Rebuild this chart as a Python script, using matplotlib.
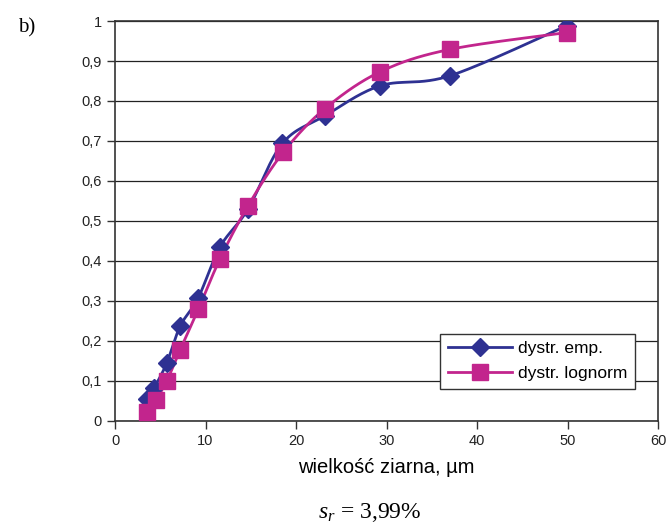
import numpy as np
import matplotlib
matplotlib.use("Agg")
import matplotlib.pyplot as plt
from matplotlib.ticker import FuncFormatter

# grain size [um] and cumulative distributions
x_emp = [3.5, 4.3, 5.7, 7.2, 9.2, 11.6, 14.7, 18.5, 23.2, 29.3, 37.0, 49.9]
y_emp = [0.055, 0.082, 0.144, 0.237, 0.308, 0.435, 0.53, 0.694, 0.763, 0.838, 0.863, 0.988]
x_log = [3.5, 4.5, 5.7, 7.2, 9.2, 11.6, 14.7, 18.6, 23.2, 29.3, 37.0, 49.9]
y_log = [0.023, 0.053, 0.099, 0.178, 0.279, 0.405, 0.538, 0.672, 0.781, 0.873, 0.929, 0.971]

labels = ["dystr. emp.", "dystr. lognorm"]
blue = "#2E3192"
pink = "#C2258D"


def smooth(xs, ys, n=30):
    # catmull-rom like excel "smoothed line"
    p = np.column_stack([xs, ys])
    p = np.vstack([p[0], p, p[-1]])
    out = []
    for i in range(1, len(p) - 2):
        p0, p1, p2, p3 = p[i - 1], p[i], p[i + 1], p[i + 2]
        t = np.linspace(0, 1, n)[:, None]
        pt = 0.5 * ((2 * p1) + (-p0 + p2) * t + (2 * p0 - 5 * p1 + 4 * p2 - p3) * t ** 2
                    + (-p0 + 3 * p1 - 3 * p2 + p3) * t ** 3)
        out.append(pt)
    out = np.vstack(out)
    return out[:, 0], out[:, 1]


plt.rcParams["font.family"] = ["Liberation Sans", "DejaVu Sans"]
plt.rcParams["mathtext.fontset"] = "custom"
plt.rcParams["mathtext.it"] = "Liberation Serif:italic"
plt.rcParams["mathtext.rm"] = "Liberation Serif"

fig = plt.figure(figsize=(6.71, 5.23), dpi=100)
ax = fig.add_axes([115 / 671, 102 / 523, 543 / 671, 400 / 523])

sx, sy = smooth(x_emp, y_emp)
ax.plot(sx, sy, color=blue, lw=2, zorder=3)
ax.plot(x_emp, y_emp, ls="none", marker="D", ms=9, color=blue, zorder=4)
sx, sy = smooth(x_log, y_log)
ax.plot(sx, sy, color=pink, lw=2, zorder=3)
ax.plot(x_log, y_log, ls="none", marker="s", ms=12, color=pink, zorder=5)

ax.set_xlim(0, 60)
ax.set_ylim(0, 1)
ax.set_xticks(np.arange(0, 61, 10))
ax.set_yticks(np.arange(0, 1.01, 0.1))
ax.yaxis.set_major_formatter(FuncFormatter(lambda v, p: "0" if abs(v) < 1e-9 else ("1" if abs(v - 1) < 1e-9 else f"{v:.1f}".replace(".", ","))))
ax.grid(axis="y", color="#222222", lw=0.9)
ax.set_axisbelow(True)
for s in ax.spines.values():
    s.set_color("#333333")
    s.set_linewidth(1.2)
ax.tick_params(axis="both", labelsize=10.5, color="#333333", labelcolor="#222222",
               length=6, width=1, direction="out")
ax.set_xlabel("wielkość ziarna, µm", fontsize=14.5, labelpad=7)

h1 = plt.Line2D([], [], color=blue, lw=2, marker="D", ms=9)
h2 = plt.Line2D([], [], color=pink, lw=2, marker="s", ms=11)
leg = ax.legend([h1, h2], labels, loc="lower right", bbox_to_anchor=(0.958, 0.08),
                borderaxespad=0, fontsize=12.5, frameon=True, fancybox=False,
                edgecolor="#333333", framealpha=1, handlelength=3.7,
                borderpad=0.45, labelspacing=0.55, handletextpad=0.35)
leg.get_frame().set_linewidth(1)

fig.text(18 / 671, 1 - 28 / 523, "b)", family="Liberation Serif", fontsize=15, va="center")
fig.text(370 / 671, 1 - 512 / 523, r"$s_r$ = 3,99%", family="Liberation Serif",
         fontsize=17, ha="center", va="center")

fig.savefig("out.png", dpi=100)
